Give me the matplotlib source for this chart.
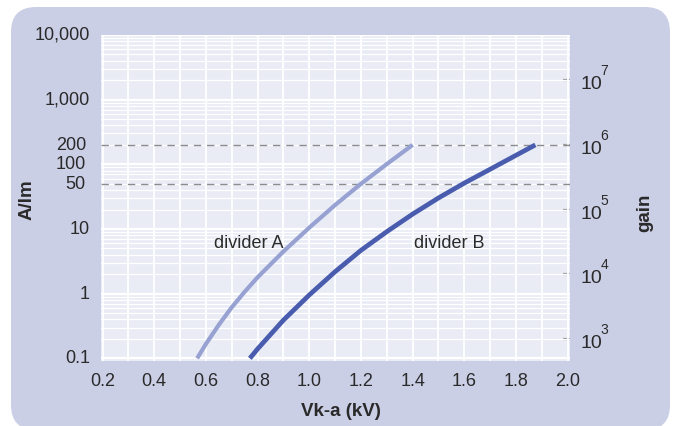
import matplotlib
matplotlib.use('Agg')
import matplotlib.pyplot as plt
import numpy as np
from matplotlib.patches import FancyBboxPatch
from matplotlib.transforms import IdentityTransform, ScaledTranslation, blended_transform_factory
from matplotlib.ticker import NullLocator

# ---- data ----
voltage_a = [0.566, 0.6, 0.65, 0.7, 0.75, 0.8, 0.9, 1.0, 1.1, 1.2, 1.3, 1.4]
sens_a = [0.1, 0.167, 0.33, 0.615, 1.07, 1.79, 4.5, 10.5, 23.5, 50, 101, 200]

voltage_b = [0.770, 0.8, 0.9, 1.0, 1.1, 1.2, 1.3, 1.4, 1.5, 1.6, 1.7, 1.8, 1.875]
sens_b = [0.1, 0.14, 0.39, 0.955, 2.19, 4.68, 9.1, 17.0, 30.2, 51.3, 84, 138, 200]

left_ticks = [0.1, 1, 10, 50, 100, 200, 1000, 10000]
left_labels = ['0.1', '1', '10', '50', '100', '200', '1,000', '10,000']
x_ticks = [0.2, 0.4, 0.6, 0.8, 1.0, 1.2, 1.4, 1.6, 1.8, 2.0]
x_labels = ['0.2', '0.4', '0.6', '0.8', '1.0', '1.2', '1.4', '1.6', '1.8', '2.0']
gain_exponents = [3, 4, 5, 6, 7]
gain_per_alm = 5000.0
ref_levels = [200, 50]

plt.rcParams['font.family'] = ['Liberation Sans', 'DejaVu Sans']

TXT = '#2a2a2a'
DPI = 100

fig = plt.figure(figsize=(6.76, 4.27), dpi=DPI)
fig.patch.set_facecolor('white')
bg = FancyBboxPatch((11, -4), 659, 423, boxstyle='round,pad=0,rounding_size=25',
                    transform=IdentityTransform(), facecolor='#cbcfe6',
                    edgecolor='none', zorder=0)
fig.add_artist(bg)

ax = fig.add_axes([101/676, 1-361.7/427, (570-101)/676, (361.7-36)/427])
ax.set_facecolor('#e9ecf5')
ax.set_yscale('log')
ax.set_xlim(0.194, 2.009)
ax.set_ylim(0.092, 10000)
for s in ax.spines.values():
    s.set_visible(False)

# grid
decades = 10.0 ** np.arange(-1, 5)
for d in decades:
    ax.axhline(d, color='white', lw=1.6, zorder=0.5)
for d in decades[:-1]:
    for m in range(2, 10):
        ax.axhline(d * m, color='white', lw=0.9, zorder=0.5)
for xv in np.arange(0.2, 2.001, 0.1):
    ax.axvline(xv, color='white', lw=1.3, zorder=0.6)

for lv in ref_levels:
    ax.axhline(lv, color='#8c8c8c', lw=1.0, dashes=(5.3, 4.2), zorder=1.5)

ax.plot(voltage_a, sens_a, color='#97a2d3', lw=3.0, solid_capstyle='butt',
        solid_joinstyle='round', zorder=3)
ax.plot(voltage_b, sens_b, color='#4a5cae', lw=3.4, solid_capstyle='butt',
        solid_joinstyle='round', zorder=3)

ax.text(0.766, 6.25, 'divider A', ha='center', va='center', fontsize=13, color=TXT)
ax.text(1.543, 6.25, 'divider B', ha='center', va='center', fontsize=13, color=TXT)

def px(dx, dy):
    return ScaledTranslation(dx / DPI, dy / DPI, fig.dpi_scale_trans)

ax.set_yticks(left_ticks, labels=left_labels)
ax.yaxis.set_minor_locator(NullLocator())
ax.tick_params(axis='y', length=0, pad=8, labelsize=13, labelcolor=TXT)
for lab, val in zip(ax.get_yticklabels(), left_ticks):
    dx = -4 if val in (50, 100, 200) else 0
    lab.set_transform(lab.get_transform() + px(dx, 2.5))
ax.set_xticks(x_ticks, labels=x_labels)
ax.tick_params(axis='x', length=0, pad=8, labelsize=13, labelcolor=TXT)

sec = ax.secondary_yaxis('right', functions=(lambda y: y * gain_per_alm,
                                             lambda g: g / gain_per_alm))
sec.set_yticks([10.0 ** e for e in gain_exponents], labels=['' for _ in gain_exponents])
sec.yaxis.set_minor_locator(NullLocator())
for s in sec.spines.values():
    s.set_visible(False)
sec.tick_params(axis='y', direction='in', length=5, width=1.6, color='#9a9a9a',
                pad=8, labelsize=13, labelcolor=TXT)

# gain tick labels: "10" with raised exponent
btr = blended_transform_factory(ax.transAxes, ax.transData)
for e in gain_exponents:
    yv = 10.0 ** e / gain_per_alm
    ax.text(1.0, yv, '10', transform=btr + px(10.5, -3.5), ha='left', va='center',
            fontsize=14, color=TXT)
    ax.text(1.0, yv, str(e), transform=btr + px(30.5, 3.0), ha='left', va='bottom',
            fontsize=10, color=TXT)

fig.text(27/676, 1-200/427, 'A/lm', rotation=90, ha='center', va='center',
         fontsize=13.5, fontweight='bold', color=TXT)
fig.text(645/676, 1-213/427, 'gain', rotation=90, ha='center', va='center',
         fontsize=13.5, fontweight='bold', color=TXT)
fig.text(341/676, 1-411.7/427, 'Vk-a (kV)', ha='center', va='center',
         fontsize=13.5, fontweight='bold', color=TXT)

fig.savefig('out.png', dpi=DPI, facecolor='white')
